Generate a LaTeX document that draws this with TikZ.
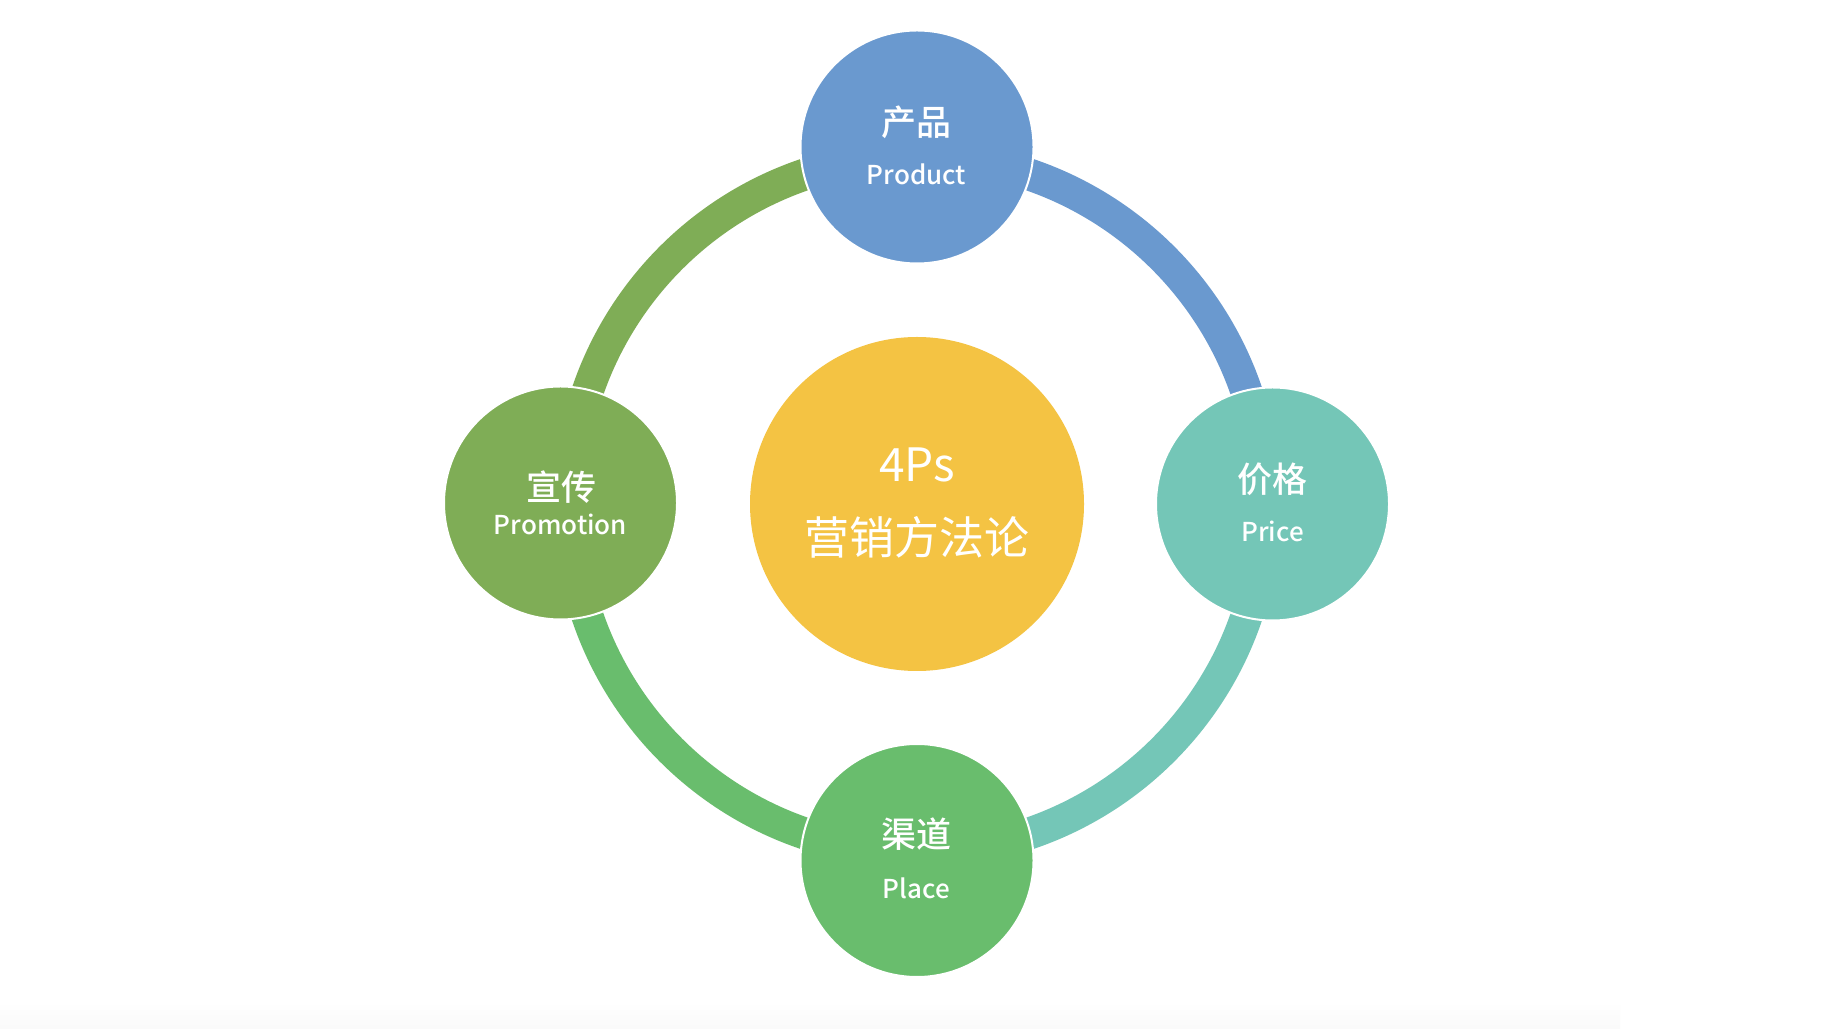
\documentclass[tikz,border=0pt]{standalone}
\usepackage{fontspec}
\setmainfont{Noto Sans CJK SC}[UprightFont=* Medium, BoldFont=* Bold]
\newfontfamily\regfont{Noto Sans CJK SC}
\usetikzlibrary{shadings}
\definecolor{cblue}{HTML}{6A99CF}
\definecolor{cteal}{HTML}{74C6B7}
\definecolor{cgreen}{HTML}{69BD6D}
\definecolor{colive}{HTML}{7FAD56}
\definecolor{cyellow}{HTML}{F4C343}
\tikzset{
  ball/.style={circle, inner sep=0pt, minimum size=233pt, draw=white, line width=2pt},
  hub/.style={circle, inner sep=0pt, minimum size=334pt, fill=cyellow},
  cn/.style={text=white, font=\fontsize{35}{40}\selectfont, anchor=center, inner sep=0pt},
  en/.style={text=white, font=\fontsize{26}{30}\selectfont, anchor=base, inner sep=0pt},
  core/.style={text=white, anchor=center, inner sep=0pt},
  ring/.style={line width=32pt}
}
\begin{document}
\begin{tikzpicture}[x=1pt,y=1pt]
\useasboundingbox (0,0) rectangle (1838,1028);
\fill[white] (0,0) rectangle (1838,1028);
\shade[top color=white, bottom color=black!2] (0,0) rectangle (1620,26);
\coordinate (C) at (917,524);
% ring arcs
\draw[ring, cblue]  (C) ++(90:348) arc[start angle=90, end angle=0, radius=348];
\draw[ring, cteal]  (C) ++(0:348) arc[start angle=0, end angle=-90, radius=348];
\draw[ring, cgreen] (C) ++(-90:348) arc[start angle=-90, end angle=-180, radius=348];
\draw[ring, colive] (C) ++(180:348) arc[start angle=180, end angle=90, radius=348];
% circles
\node[hub] (hub) at (C) {};
\node[ball, fill=cblue]  (product)   at (917,881) {};
\node[ball, fill=cteal]  (price)     at (1272.5,524) {};
\node[ball, fill=cgreen] (place)     at (917,167.5) {};
\node[ball, fill=colive] (promotion) at (560.5,525) {};
% texts
\node[core, font=\regfont\fontsize{46}{50}\selectfont] (t4ps) at (917,563) {4Ps};
\node[core, font=\regfont\fontsize{45}{50}\selectfont] (tcore) at (917,491) {营销方法论};
\node[cn] (cnprod) at (916.5,906) {产品};
\node[en] (enprod) at (916.5,843) {Product};
\node[cn] (cnprice) at (1272.5,549) {价格};
\node[en] (enprice) at (1272.5,486) {Price};
\node[cn] (cnplace) at (916.5,194) {渠道};
\node[en] (enplace) at (916.5,130) {Place};
\node[cn] (cnpromo) at (561,541) {宣传};
\node[en] (enpromo) at (560.5,493) {Promotion};
\end{tikzpicture}
\end{document}
